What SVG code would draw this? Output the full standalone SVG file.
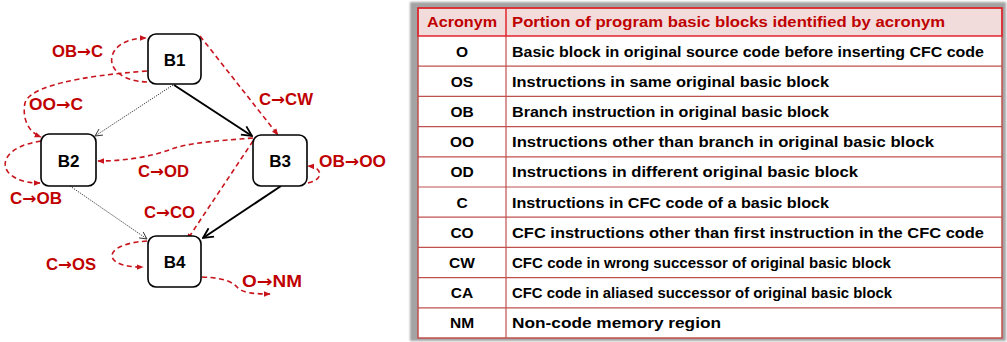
<svg xmlns="http://www.w3.org/2000/svg" width="1007" height="342" viewBox="0 0 1007 342">
  <style>
    .node rect { fill: #ffffff; stroke: #000000; stroke-width: 1.6; }
    .node text { font-family: "Liberation Sans", Arial, sans-serif; font-weight: bold; font-size: 17px; fill: #000000; text-anchor: middle; }
    .flow { fill: none; stroke: #000000; stroke-width: 2; }
    .dot { fill: none; stroke: #333333; stroke-width: 1; stroke-dasharray: 1.2 1.2; }
    .red { fill: none; stroke: #c8141c; stroke-width: 1.6; stroke-dasharray: 5 3.5; }
    .lbl { font-family: "Liberation Sans", Arial, sans-serif; font-weight: bold; font-size: 16px; fill: #c00000; }
    .arr { font-family: "DejaVu Sans", sans-serif; font-weight: bold; }
    .th { font-family: "Liberation Sans", Arial, sans-serif; font-weight: bold; font-size: 15.5px; fill: #c00000; }
    .td { font-family: "Liberation Sans", Arial, sans-serif; font-weight: bold; font-size: 15.5px; fill: #000000; }
    .mid { text-anchor: middle; }
    .rowline { stroke: #c0504d; stroke-width: 1.2; }
  </style>
  <defs>
    <marker id="openArrow" viewBox="0 0 12 12" refX="11" refY="6" markerWidth="12" markerHeight="12" markerUnits="userSpaceOnUse" orient="auto">
      <path d="M1,1 L11,6 L1,11" fill="none" stroke="#000000" stroke-width="1.8"/>
    </marker>
    <marker id="thinArrow" viewBox="0 0 10 10" refX="9" refY="5" markerWidth="9" markerHeight="9" markerUnits="userSpaceOnUse" orient="auto">
      <path d="M1,1 L9,5 L1,9" fill="none" stroke="#333333" stroke-width="1"/>
    </marker>
    <marker id="redArrow" viewBox="0 0 10 10" refX="9" refY="5" markerWidth="7" markerHeight="7" markerUnits="userSpaceOnUse" orient="auto">
      <path d="M0,1 L10,5 L0,9 Z" fill="#c8141c"/>
    </marker>
    <filter id="soft" x="-5%" y="-5%" width="110%" height="110%">
      <feGaussianBlur stdDeviation="1"/>
    </filter>
  </defs>

  <!-- connectors -->
  <g id="connectors">
    <!-- control flow edges -->
    <line class="flow" x1="174" y1="85" x2="252" y2="136" marker-end="url(#openArrow)"/>
    <line class="flow" x1="281" y1="186" x2="203" y2="238" marker-end="url(#openArrow)"/>
    <line class="dot" x1="173" y1="85" x2="95" y2="136" marker-end="url(#thinArrow)"/>
    <line class="dot" x1="70" y1="186" x2="147" y2="239" marker-end="url(#thinArrow)"/>

    <!-- illegal transfer paths -->
    <path class="red" d="M147,82 C98,80 102,38 146,38" marker-end="url(#redArrow)"/>
    <path class="red" d="M147,71 C80,76 30,86 25,103 C22,118 28,132 41,137" marker-end="url(#redArrow)"/>
    <path class="red" d="M41,141 C8,146 0,162 8,172 C16,181 28,183 40,183" marker-end="url(#redArrow)"/>
    <path class="red" d="M253,138 C215,141 188,143 172,149 C150,157 125,161 98,161" marker-end="url(#redArrow)"/>
    <path class="red" d="M200,36 L278,135" marker-end="url(#redArrow)"/>
    <path class="red" d="M308,183 C324,180 323,167 308,166" marker-end="url(#redArrow)"/>
    <path class="red" d="M253,141 L187,240" marker-end="url(#redArrow)"/>
    <path class="red" d="M147,241 C100,244 102,268 143,267" marker-end="url(#redArrow)"/>
    <path class="red" d="M202,277 C225,278 232,282 237,287 C242,293 255,294 270,294" marker-end="url(#redArrow)"/>
  </g>

  <!-- transfer labels -->
  <g id="labels">
    <text class="lbl" x="52" y="57" textLength="51" lengthAdjust="spacingAndGlyphs">OB<tspan class="arr">→</tspan>C</text>
    <text class="lbl" x="29" y="110" textLength="54" lengthAdjust="spacingAndGlyphs">OO<tspan class="arr">→</tspan>C</text>
    <text class="lbl" x="259" y="105" textLength="54" lengthAdjust="spacingAndGlyphs">C<tspan class="arr">→</tspan>CW</text>
    <text class="lbl" x="319" y="167" textLength="67" lengthAdjust="spacingAndGlyphs">OB<tspan class="arr">→</tspan>OO</text>
    <text class="lbl" x="138" y="177" textLength="51" lengthAdjust="spacingAndGlyphs">C<tspan class="arr">→</tspan>OD</text>
    <text class="lbl" x="10" y="204" textLength="52" lengthAdjust="spacingAndGlyphs">C<tspan class="arr">→</tspan>OB</text>
    <text class="lbl" x="144" y="218" textLength="51" lengthAdjust="spacingAndGlyphs">C<tspan class="arr">→</tspan>CO</text>
    <text class="lbl" x="46" y="270" textLength="50" lengthAdjust="spacingAndGlyphs">C<tspan class="arr">→</tspan>OS</text>
    <text class="lbl" x="242" y="287" textLength="60" lengthAdjust="spacingAndGlyphs">O<tspan class="arr">→</tspan>NM</text>
  </g>

  <!-- basic blocks -->
  <g id="B1" class="node"><rect x="148" y="34" width="53" height="50" rx="8"/><text x="174.5" y="66">B1</text></g>
  <g id="B2" class="node"><rect x="41" y="134" width="55" height="52" rx="8"/><text x="68.5" y="167">B2</text></g>
  <g id="B3" class="node"><rect x="253" y="135" width="54" height="51" rx="8"/><text x="280" y="167">B3</text></g>
  <g id="B4" class="node"><rect x="148" y="236" width="53" height="51" rx="8"/><text x="174.5" y="268">B4</text></g>

  <!-- acronym table -->
  <g id="acronym-table">
    <rect x="410" y="2" width="596" height="339" fill="#a3a3a3" filter="url(#soft)"/>
    <rect x="418" y="8" width="584" height="330" fill="#ffffff"/>
    <rect x="418" y="8" width="584" height="28" fill="#f2dcdb"/>
    <g class="rowline">
      <line x1="418" y1="66.2" x2="1002" y2="66.2"/>
      <line x1="418" y1="96.4" x2="1002" y2="96.4"/>
      <line x1="418" y1="126.6" x2="1002" y2="126.6"/>
      <line x1="418" y1="156.8" x2="1002" y2="156.8"/>
      <line x1="418" y1="187" x2="1002" y2="187"/>
      <line x1="418" y1="217.2" x2="1002" y2="217.2"/>
      <line x1="418" y1="247.4" x2="1002" y2="247.4"/>
      <line x1="418" y1="277.6" x2="1002" y2="277.6"/>
      <line x1="418" y1="307.8" x2="1002" y2="307.8"/>
      <line x1="506" y1="36" x2="506" y2="338"/>
    </g>
    <rect x="418" y="8" width="584" height="330" fill="none" stroke="#c0504d" stroke-width="1.5"/>
    <rect x="418" y="8" width="584" height="28" fill="none" stroke="#e0242b" stroke-width="1.5"/>
    <line x1="506" y1="8" x2="506" y2="36" stroke="#e0242b" stroke-width="1.5"/>

    <text class="th mid" x="462" y="27" textLength="70" lengthAdjust="spacingAndGlyphs">Acronym</text>
    <text class="th" x="512" y="27" textLength="433" lengthAdjust="spacingAndGlyphs">Portion of program basic blocks identified by acronym</text>

    <text class="td mid" x="462" y="56.5">O</text>
    <text class="td" x="512" y="56.5" textLength="472" lengthAdjust="spacingAndGlyphs">Basic block in original source code before inserting CFC code</text>
    <text class="td mid" x="462" y="86.7">OS</text>
    <text class="td" x="512" y="86.7" textLength="317" lengthAdjust="spacingAndGlyphs">Instructions in same original basic block</text>
    <text class="td mid" x="462" y="116.9">OB</text>
    <text class="td" x="512" y="116.9" textLength="317" lengthAdjust="spacingAndGlyphs">Branch instruction in original basic block</text>
    <text class="td mid" x="462" y="147.1">OO</text>
    <text class="td" x="512" y="147.1" textLength="422" lengthAdjust="spacingAndGlyphs">Instructions other than branch in original basic block</text>
    <text class="td mid" x="462" y="177.3">OD</text>
    <text class="td" x="512" y="177.3" textLength="346" lengthAdjust="spacingAndGlyphs">Instructions in different original basic block</text>
    <text class="td mid" x="462" y="207.5">C</text>
    <text class="td" x="512" y="207.5" textLength="317" lengthAdjust="spacingAndGlyphs">Instructions in CFC code of a basic block</text>
    <text class="td mid" x="462" y="237.7">CO</text>
    <text class="td" x="512" y="237.7" textLength="472" lengthAdjust="spacingAndGlyphs">CFC instructions other than first instruction in the CFC code</text>
    <text class="td mid" x="462" y="267.9">CW</text>
    <text class="td" x="512" y="267.9" textLength="379" lengthAdjust="spacingAndGlyphs">CFC code in wrong successor of original basic block</text>
    <text class="td mid" x="462" y="298.1">CA</text>
    <text class="td" x="512" y="298.1" textLength="380" lengthAdjust="spacingAndGlyphs">CFC code in aliased successor of original basic block</text>
    <text class="td mid" x="462" y="328.3">NM</text>
    <text class="td" x="512" y="328.3" textLength="209" lengthAdjust="spacingAndGlyphs">Non-code memory region</text>
  </g>
</svg>
